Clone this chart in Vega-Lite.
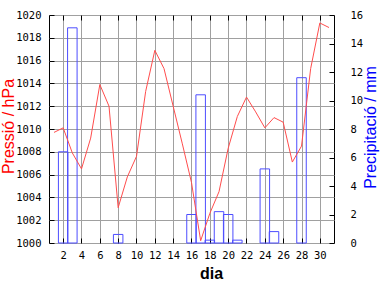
{
  "$schema": "https://vega.github.io/schema/vega-lite/v6.json",
  "width": 285,
  "height": 228,
  "autosize": {"type": "none"},
  "padding": {"left": 49, "top": 15, "right": 50, "bottom": 45},
  "background": "#ffffff",
  "config": {
    "view": {"stroke": "#000000", "strokeWidth": 1},
    "axis": {
      "labelFont": "DejaVu Sans Mono",
      "labelFontSize": 10.5,
      "labelColor": "#000000",
      "tickColor": "#000000",
      "tickSize": -5,
      "domain": false,
      "gridColor": "#a0a0a0",
      "gridWidth": 1,
      "gridOpacity": 1,
      "titleFont": "Liberation Sans",
      "titleFontSize": 16,
      "titleFontWeight": "normal",
      "format": "d"
    }
  },
  "data": {
    "values": [
      {"dia": 1, "pressio": 1009.7, "precip": 0},
      {"dia": 2, "pressio": 1010.1, "precip": 6.4},
      {"dia": 3, "pressio": 1007.9, "precip": 15.1},
      {"dia": 4, "pressio": 1006.5, "precip": 0},
      {"dia": 5, "pressio": 1009.2, "precip": 0},
      {"dia": 6, "pressio": 1013.9, "precip": 0},
      {"dia": 7, "pressio": 1012.0, "precip": 0},
      {"dia": 8, "pressio": 1003.1, "precip": 0.6},
      {"dia": 9, "pressio": 1005.8, "precip": 0},
      {"dia": 10, "pressio": 1007.6, "precip": 0},
      {"dia": 11, "pressio": 1013.3, "precip": 0},
      {"dia": 12, "pressio": 1016.9, "precip": 0},
      {"dia": 13, "pressio": 1015.3, "precip": 0},
      {"dia": 14, "pressio": 1012.0, "precip": 0},
      {"dia": 15, "pressio": 1008.7, "precip": 0},
      {"dia": 16, "pressio": 1005.3, "precip": 2.0},
      {"dia": 17, "pressio": 1000.2, "precip": 10.4},
      {"dia": 18, "pressio": 1002.6, "precip": 0.2},
      {"dia": 19, "pressio": 1004.5, "precip": 2.2},
      {"dia": 20, "pressio": 1008.3, "precip": 2.0},
      {"dia": 21, "pressio": 1011.1, "precip": 0.2},
      {"dia": 22, "pressio": 1012.8, "precip": 0},
      {"dia": 23, "pressio": 1011.5, "precip": 0},
      {"dia": 24, "pressio": 1010.1, "precip": 5.2},
      {"dia": 25, "pressio": 1011.0, "precip": 0.8},
      {"dia": 26, "pressio": 1010.6, "precip": 0},
      {"dia": 27, "pressio": 1007.1, "precip": 0},
      {"dia": 28, "pressio": 1008.5, "precip": 11.6},
      {"dia": 29, "pressio": 1015.3, "precip": 0},
      {"dia": 30, "pressio": 1019.3, "precip": 0},
      {"dia": 31, "pressio": 1018.9, "precip": 0}
    ]
  },
  "layer": [
    {
      "transform": [{"filter": "datum.precip > 0"}],
      "mark": {"type": "bar", "size": 9.5, "fill": "#ffffff", "fillOpacity": 0, "stroke": "#4d4dff", "strokeWidth": 1},
      "encoding": {
        "x": {
          "field": "dia",
          "type": "quantitative",
          "scale": {"domain": [1, 31], "nice": false, "zero": false},
          "axis": {
            "orient": "bottom",
            "values": [2, 4, 6, 8, 10, 12, 14, 16, 18, 20, 22, 24, 26, 28, 30],
            "grid": true,
            "labelPadding": 12,
            "labelDx": 3,
            "title": "dia",
            "titleFontWeight": "bold",
            "titleColor": "#000000",
            "titleX": 162,
            "titleY": 35,
            "titleBaseline": "alphabetic",
            "titleAlign": "center"
          }
        },
        "y": {
          "field": "precip",
          "type": "quantitative",
          "scale": {"domain": [0, 16], "nice": false},
          "axis": {
            "orient": "right",
            "values": [0, 2, 4, 6, 8, 10, 12, 14, 16],
            "grid": false,
            "labelPadding": 21,
            "labelAlign": "left",
            "title": "Precipitació / mm",
            "titleColor": "#0000ff",
            "titleAngle": 270,
            "titleX": 41,
            "titleY": 112,
            "titleBaseline": "alphabetic",
            "titleAlign": "center"
          }
        }
      }
    },
    {
      "mark": {"type": "line", "color": "#ff4d4d", "strokeWidth": 1},
      "encoding": {
        "x": {
          "field": "dia",
          "type": "quantitative",
          "axis": {
            "orient": "top",
            "values": [2, 4, 6, 8, 10, 12, 14, 16, 18, 20, 22, 24, 26, 28, 30],
            "grid": false,
            "labels": false,
            "title": null
          }
        },
        "y": {
          "field": "pressio",
          "type": "quantitative",
          "scale": {"domain": [1000, 1020], "nice": false, "zero": false},
          "axis": {
            "orient": "left",
            "values": [1000, 1002, 1004, 1006, 1008, 1010, 1012, 1014, 1016, 1018, 1020],
            "grid": true,
            "labelPadding": 13,
            "title": "Pressió / hPa",
            "titleColor": "#ff0000",
            "titleAngle": 270,
            "titleX": -35.5,
            "titleY": 111,
            "titleBaseline": "alphabetic",
            "titleAlign": "center"
          }
        }
      }
    }
  ],
  "resolve": {"scale": {"y": "independent"}, "axis": {"x": "independent"}}
}
